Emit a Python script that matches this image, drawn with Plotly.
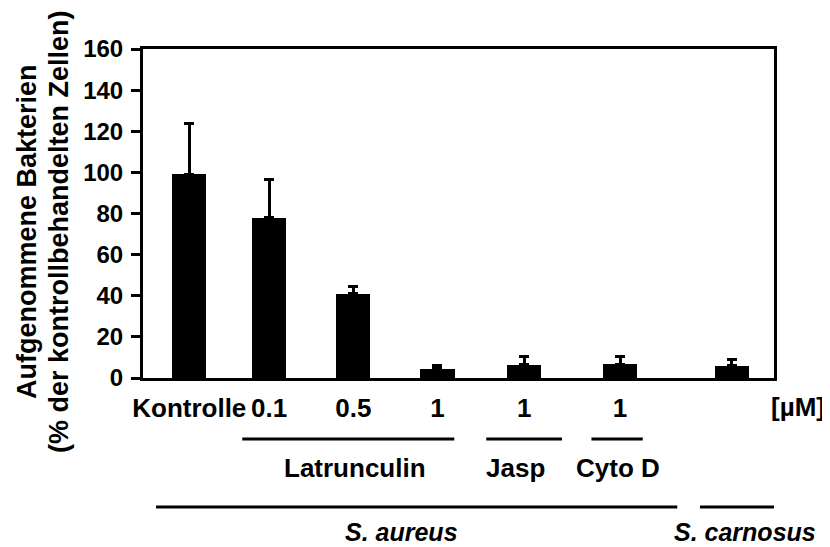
import plotly.graph_objects as go

# ---- data ----
categories = ["Kontrolle", "0.1", "0.5", "1", "1", "1", ""]
x_pos = [0.55, 1.5, 2.5, 3.5, 4.53, 5.67, 7.0]
values = [99, 78, 41, 4.5, 6.5, 6.8, 6.0]
err_plus = [25, 18.5, 3.5, 1.5, 4.0, 3.8, 3.0]

y_ticks = [0, 20, 40, 60, 80, 100, 120, 140, 160]

# group brackets: (label, line start, line end, label centre) in x-axis units
groups_row1 = [
    ("Latrunculin", 1.18, 3.70, 2.52),
    ("Jasp", 4.08, 4.98, 4.43),
    ("Cyto D", 5.33, 5.94, 5.65),
]
groups_row2 = [
    ("S. aureus", 0.155, 6.35, 3.07),
    ("S. carnosus", 6.62, 7.52, 7.16),
]
unit_label = "[µM]"
y_title_1 = "Aufgenommene Bakterien"
y_title_2 = "(% der kontrollbehandelten Zellen)"

FONT = "Liberation Sans, Arial, sans-serif"

# page is rendered with an 8px body margin -> compensate
OFF = 8
W, H = 830 - OFF, 547 - OFF
PL, PT, PR, PB = 143, 49, 774, 378          # plot area in page pixels
L, T = PL - OFF, PT - OFF
R = W - (PR - OFF)
B = H - (PB - OFF)
plot_w = PR - PL
plot_h = PB - PT

def py(p):
    return (PB - p) / plot_h

def px(p):
    return (p - PL) / plot_w

fig = go.Figure()
fig.add_trace(go.Bar(
    x=x_pos, y=values, width=0.405,
    marker=dict(color="black", line=dict(width=0)),
    error_y=dict(type="data", symmetric=False, array=err_plus,
                 arrayminus=[0] * len(values),
                 color="black", thickness=3, width=5),
    showlegend=False,
))

fig.update_layout(
    width=W, height=H,
    margin=dict(l=L, r=R, t=T, b=B, pad=0),
    paper_bgcolor="white", plot_bgcolor="white",
    font=dict(family=FONT, color="black", size=24, weight="bold"),
    bargap=0,
)
fig.update_xaxes(
    range=[0, 7.5], showgrid=False, zeroline=False,
    showline=True, linecolor="black", linewidth=3, mirror=True,
    ticks="", tickvals=x_pos, ticktext=categories,
    tickfont=dict(size=26, family=FONT, weight="bold"),
    ticklabelstandoff=5,
)
fig.update_yaxes(
    range=[0, 160], tickvals=y_ticks, showgrid=False, zeroline=False,
    showline=True, linecolor="black", linewidth=3, mirror=True,
    ticks="outside", ticklen=9, tickwidth=3, tickcolor="black",
    tickfont=dict(size=24, family=FONT, weight="bold"),
    ticklabelstandoff=3,
)

ann = []
shapes = []
line_style = dict(color="black", width=3)
lab_font = dict(size=26, family=FONT, weight="bold")
for label, x0, x1, lx in groups_row1:
    shapes.append(dict(type="line", xref="x", yref="paper", x0=x0, x1=x1,
                       y0=py(439), y1=py(439), line=line_style))
    ann.append(dict(text=label, x=lx, xref="x", y=py(468), yref="paper",
                    showarrow=False, xanchor="center", yanchor="middle",
                    font=lab_font))
for label, x0, x1, lx in groups_row2:
    shapes.append(dict(type="line", xref="x", yref="paper", x0=x0, x1=x1,
                       y0=py(507), y1=py(507), line=line_style))
    ann.append(dict(text="<i>" + label + "</i>", x=lx, xref="x", y=py(532),
                    yref="paper", showarrow=False, xanchor="center",
                    yanchor="middle",
                    font=dict(size=25, family=FONT, weight="bold")))

ann.append(dict(text=unit_label, x=px(798), xref="paper",
                y=py(407), yref="paper", showarrow=False, xanchor="center",
                yanchor="middle", font=lab_font))
title_font = dict(size=27, family=FONT, weight="bold")
ann.append(dict(text=y_title_1, x=px(27), xref="paper",
                y=py(232), yref="paper", showarrow=False, textangle=-90,
                xanchor="center", yanchor="middle", font=title_font))
ann.append(dict(text=y_title_2, x=px(59), xref="paper",
                y=py(232), yref="paper", showarrow=False, textangle=-90,
                xanchor="center", yanchor="middle", font=title_font))

fig.update_layout(annotations=ann, shapes=shapes)
fig.write_html("out.html")
